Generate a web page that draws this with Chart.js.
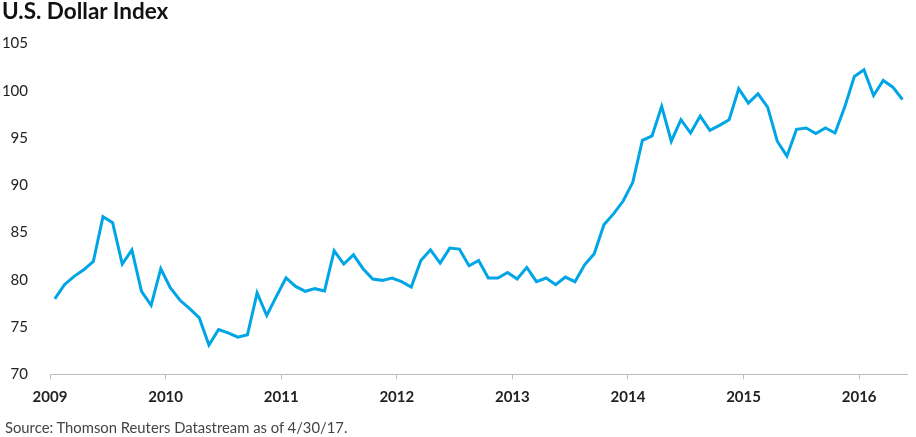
<!DOCTYPE html>
<html>
<head>
<meta charset="utf-8">
<script src="https://cdn.jsdelivr.net/npm/chart.js@4"></script>
<style>
  html, body { margin: 0; padding: 0; background: #fff; }
  #wrap { position: relative; width: 916px; height: 437px; overflow: hidden; }
  #title { position: absolute; left: 2px; top: -3px; font: bold 22.5px Lato, sans-serif; color: #111; }
  #source { position: absolute; left: 5px; top: 418px; font: 14.8px Lato, sans-serif; color: #444; }
  canvas { position: absolute; left: 0; top: 0; }
</style>
</head>
<body>
<div id="wrap">
  <canvas id="usdChart" width="916" height="437"></canvas>
  <div id="title">U.S. Dollar Index</div>
  <div id="source">Source: Thomson Reuters Datastream as of 4/30/17.</div>
</div>
<script>
// monthly values, first month = Jan 2009
const startYear = 2009;
const usdIndex = [
  77.98, 79.48, 80.36, 81.06, 81.94, 86.68, 86.05, 81.66, 83.17, 78.78, 77.30, 81.17,
  79.14, 77.83, 76.95, 75.97, 73.09, 74.74, 74.39, 73.93, 74.18, 78.61, 76.22, 78.25,
  80.19, 79.30, 78.78, 79.06, 78.82, 83.07, 81.66, 82.64, 81.17, 80.08, 79.94, 80.19,
  79.80, 79.24, 82.04, 83.17, 81.77, 83.35, 83.25, 81.49, 82.04, 80.19, 80.19, 80.78,
  80.08, 81.31, 79.80, 80.19, 79.48, 80.29, 79.80, 81.59, 82.75, 85.81, 86.97, 88.33,
  90.31, 94.76, 95.22, 98.35, 94.66, 96.94, 95.53, 97.32, 95.82, 96.34, 96.94, 100.21,
  98.69, 99.68, 98.27, 94.66, 93.08, 95.92, 96.06, 95.47, 96.06, 95.53, 98.27, 101.51,
  102.21, 99.50, 101.09, 100.38, 99.08
];
const yearTicks = [2009, 2010, 2011, 2012, 2013, 2014, 2015, 2016];
const yTicks = [70, 75, 80, 85, 90, 95, 100, 105];

// mid-month positions on a year axis
const points = usdIndex.map((v, i) => ({ x: startYear + (i + 0.5) / 12, y: v }));

const ctx = document.getElementById('usdChart').getContext('2d');
const chart = new Chart(ctx, {
    type: 'line',
    data: {
        datasets: [{
            label: 'U.S. Dollar Index',
            data: points,
            borderColor: '#00a5e6',
            borderWidth: 3,
            pointRadius: 0,
            tension: 0,
            fill: false
        }]
    },
    options: {
        responsive: false,
        animation: false,
        layout: { padding: { top: 43.5, right: 8.3, bottom: 0, left: 0 } },
        plugins: { legend: { display: false }, tooltip: { enabled: false } },
        scales: {
            x: {
                type: 'linear',
                min: 2009,
                max: 2016.42,
                afterFit: (scale) => { scale.height = 62.7; },
                afterBuildTicks: (scale) => { scale.ticks = yearTicks.map(v => ({ value: v })); },
                grid: { drawOnChartArea: false, drawTicks: true, tickLength: 5, color: '#bdbdbd' },
                border: { display: true, color: '#bdbdbd', width: 1 },
                ticks: {
                    padding: 9,
                    maxRotation: 0,
                    autoSkip: false,
                    color: '#222',
                    font: { family: 'Lato', size: 15, weight: 'bold' },
                    callback: (v) => String(v)
                }
            },
            y: {
                min: 70,
                max: 105,
                afterFit: (scale) => { scale.width = 50; },
                afterBuildTicks: (scale) => { scale.ticks = yTicks.map(v => ({ value: v })); },
                grid: { display: false, drawTicks: false },
                border: { display: false },
                ticks: {
                    padding: 22,
                    color: '#222',
                    font: { family: 'Lato', size: 15 },
                    callback: (v) => String(v)
                }
            }
        }
    }
});
</script>
</body>
</html>
